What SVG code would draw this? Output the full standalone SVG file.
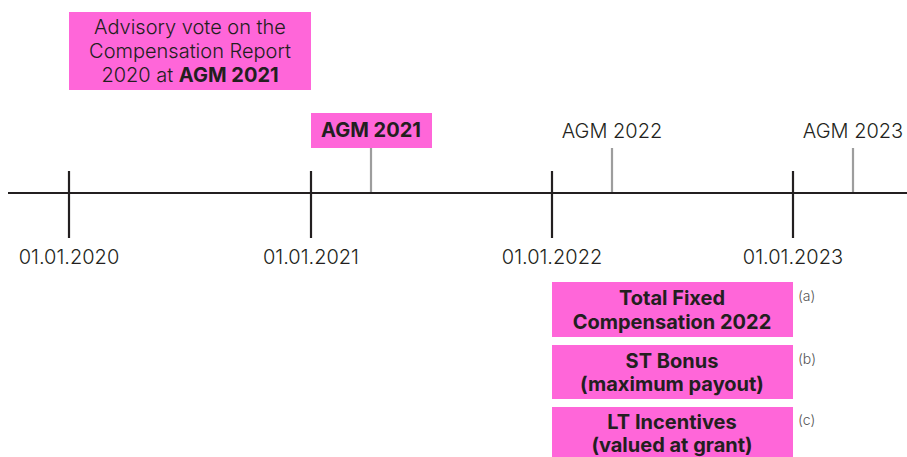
<svg xmlns="http://www.w3.org/2000/svg" width="907" height="457" viewBox="0 0 907 457">
<style>
.box{fill:#ff66d9;}
.t{font-family:Inter,"Noto Sans",sans-serif;fill:#231f20;font-size:20px;text-anchor:middle;}
.l{font-weight:300;}
.b{font-weight:700;}
.fn{font-family:Inter,"Noto Sans",sans-serif;fill:#555;font-size:14px;font-weight:300;}
.axis{stroke:#231f20;stroke-width:2.2;fill:none;}
.agm{stroke:#9d9d9d;stroke-width:2.2;fill:none;}
</style>
<rect width="907" height="457" fill="#fff"/>
<g id="connectors">
<line class="axis" x1="8" y1="193" x2="907" y2="193"/>
<line class="axis" x1="69" y1="171" x2="69" y2="238"/>
<line class="axis" x1="311" y1="171" x2="311" y2="238"/>
<line class="axis" x1="552" y1="171" x2="552" y2="238"/>
<line class="axis" x1="793" y1="171" x2="793" y2="238"/>
<line class="agm" x1="371" y1="148" x2="371" y2="192"/>
<line class="agm" x1="612" y1="148" x2="612" y2="192"/>
<line class="agm" x1="853" y1="148" x2="853" y2="192"/>
</g>
<g id="advisory">
<rect class="box" x="69" y="12" width="242" height="78"/>
<text class="t l" x="190" y="34">Advisory vote on the</text>
<text class="t l" x="190" y="58">Compensation Report</text>
<text class="t l" x="190" y="82">2020 at <tspan class="b">AGM 2021</tspan></text>
</g>
<g id="agm2021">
<rect class="box" x="311" y="113" width="121" height="35"/>
<text class="t b" x="371" y="137">AGM 2021</text>
</g>
<g id="agm2022"><text class="t l" x="612" y="138">AGM 2022</text></g>
<g id="agm2023"><text class="t l" x="853" y="138">AGM 2023</text></g>
<g id="d2020"><text class="t l" x="69" y="264">01.01.2020</text></g>
<g id="d2021"><text class="t l" x="311" y="264">01.01.2021</text></g>
<g id="d2022"><text class="t l" x="552" y="264">01.01.2022</text></g>
<g id="d2023"><text class="t l" x="793" y="264">01.01.2023</text></g>
<g id="fixed">
<rect class="box" x="552" y="282" width="241" height="55"/>
<text class="t b" x="672" y="305">Total Fixed</text>
<text class="t b" x="672" y="329">Compensation 2022</text>
<text class="fn" x="798" y="301">(a)</text>
</g>
<g id="bonus">
<rect class="box" x="552" y="345" width="241" height="54"/>
<text class="t b" x="672" y="368">ST Bonus</text>
<text class="t b" x="672" y="391">(maximum payout)</text>
<text class="fn" x="798" y="364">(b)</text>
</g>
<g id="lti">
<rect class="box" x="552" y="407" width="241" height="50"/>
<text class="t b" x="672" y="429">LT Incentives</text>
<text class="t b" x="672" y="452">(valued at grant)</text>
<text class="fn" x="798" y="425">(c)</text>
</g>
</svg>
